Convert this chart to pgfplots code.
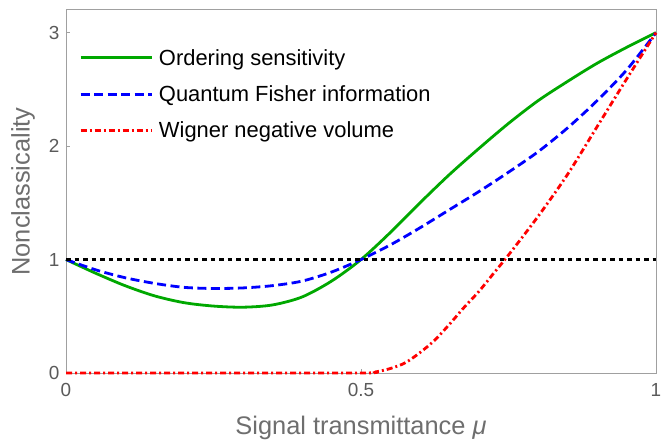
\documentclass[border=0pt]{standalone}
\usepackage{fontspec}
\setmainfont{Liberation Sans}
\usepackage{pgfplots}
\pgfplotsset{compat=1.18}

\definecolor{framegray}{HTML}{A0A0A0}
\definecolor{labgray}{HTML}{6E6E6E}
\definecolor{tickgray}{HTML}{5A5A5A}
\definecolor{osgreen}{HTML}{00A800}

\begin{document}
\begin{tikzpicture}
\useasboundingbox (-66bp,-70bp) rectangle (604bp,373bp);
\begin{axis}[
    at={(0,0)}, anchor=south west,
    scale only axis,
    width=590bp, height=363bp,
    xmin=0, xmax=1, ymin=0, ymax=3.2,
    xtick={0,0.5,1}, xticklabels={0,0.5,1},
    ytick={0,1,2,3},
    axis line style={framegray, line width=1bp},
    tick style={framegray, line width=1bp},
    major tick length=4bp, tick align=inside,
    xtick pos=bottom, ytick pos=left,
    ticklabel style={font=\fontsize{19}{19}\selectfont, text=tickgray},
    xticklabel style={yshift=-7bp},
    yticklabel style={xshift=-3bp},
    /pgf/number format/assume math mode=true,
    xlabel={Signal transmittance {\itshape μ}},
    ylabel={Nonclassicality},
    every axis x label/.style={at={(axis description cs:0.5,0)}, yshift=-55bp, anchor=center,
        font=\fontsize{25.5}{25.5}\selectfont, text=labgray},
    every axis y label/.style={at={(axis description cs:0,0.5)}, xshift=-43bp, rotate=90, anchor=center,
        font=\fontsize{25.5}{25.5}\selectfont, text=labgray},
    clip=false,
    legend style={at={(axis description cs:0,1)}, anchor=north west,
        xshift=13bp, yshift=-33bp, draw=none, fill=none, inner sep=0pt,
        font=\fontsize{22}{22}\selectfont, row sep=7bp,
        nodes={inner sep=6bp}},
    legend cell align=left,
    legend image code/.code={\draw[#1, line width=2.8bp] (0bp,0bp) -- (71bp,0bp);},
]
% Ordering sensitivity
\addplot[osgreen, line width=2.8bp, smooth] table {
0    1.00
0.05 0.88
0.10 0.77
0.15 0.68
0.20 0.62
0.25 0.59
0.30 0.58
0.35 0.60
0.40 0.67
0.45 0.81
0.50 1.00
0.55 1.24
0.60 1.50
0.65 1.75
0.70 1.98
0.75 2.20
0.80 2.40
0.85 2.57
0.90 2.73
0.95 2.87
1.00 3.00
};
\addlegendentry{Ordering sensitivity}
% Quantum Fisher information
\addplot[blue, line width=2.8bp, smooth, dash pattern=on 9bp off 4.5bp] table {
0    1.00
0.05 0.91
0.10 0.84
0.15 0.79
0.20 0.755
0.25 0.745
0.30 0.75
0.35 0.77
0.40 0.81
0.45 0.89
0.50 1.00
0.55 1.13
0.60 1.28
0.65 1.44
0.70 1.60
0.75 1.77
0.80 1.95
0.85 2.16
0.90 2.40
0.95 2.67
1.00 3.00
};
\addlegendentry{Quantum Fisher information}
% Wigner negative volume
\addplot[red, line width=2.8bp, smooth, dash pattern=on 6bp off 3bp on 2bp off 3bp] table {
0     0
0.25  0
0.50  0
0.525 0.01
0.55  0.04
0.575 0.09
0.60  0.18
0.625 0.29
0.65  0.43
0.675 0.58
0.70  0.72
0.725 0.88
0.75  1.04
0.80  1.38
0.85  1.75
0.90  2.17
0.95  2.59
1.00  3.00
};
\addlegendentry{Wigner negative volume}
% classical bound
\addplot[black, line width=2.6bp, dash pattern=on 4.5bp off 4bp, forget plot] table {
0 1
1 1
};
\end{axis}
\end{tikzpicture}
\end{document}
